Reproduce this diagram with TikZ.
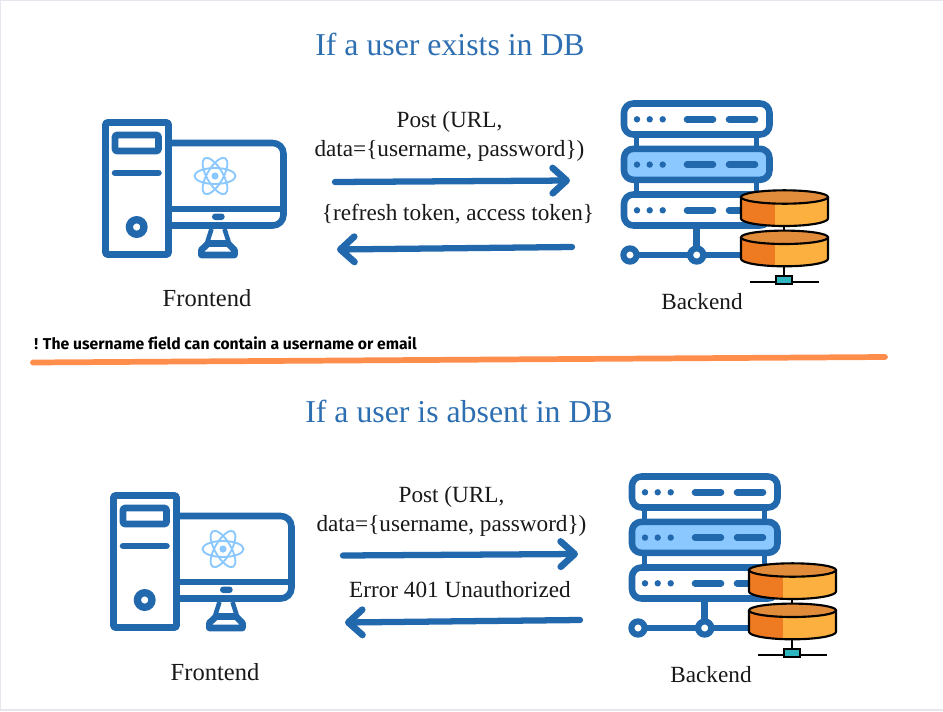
\documentclass[tikz,border=0pt]{standalone}
\usepackage{fontspec}
\setmainfont{Liberation Serif}
\newfontfamily\notefont[Ligatures=NoCommon]{Fira Sans}
\usetikzlibrary{arrows.meta}
\definecolor{iconblue}{HTML}{2268AD}
\definecolor{titleblue}{HTML}{2E6FB2}
\definecolor{paleblue}{HTML}{8AC8FF}
\definecolor{rule}{HTML}{FF8E4D}
\definecolor{edge}{HTML}{E6E6EE}
\definecolor{dbdark}{HTML}{EE7B22}
\definecolor{dblight}{HTML}{FBB040}
\definecolor{dbtop}{HTML}{E08C3A}
\definecolor{dbteal}{HTML}{2EB5C0}
\tikzset{
  icon/.style={draw=iconblue,line width=4.9pt,line join=round,line cap=round},
  title/.style={text=titleblue,font=\fontsize{23.85}{28}\selectfont},
  label/.style={text=black!90,font=\fontsize{17.4}{21.75}\selectfont,align=center},
  place/.style={text=black!90,font=\fontsize{18.4}{22}\selectfont},
  flow/.style={draw=iconblue,line width=4.7pt,line cap=round,-{Straight Barb[round,length=10.5pt,width=19pt,line width=5pt]}},
  frontend/.pic={
    % tower
    \draw[icon,rounded corners=1pt,fill=white] (105.5,122.5) rectangle (168.5,254.5);
    \draw[icon,rounded corners=1pt] (115,135) rectangle (158.5,151);
    \draw[icon] (115,173) -- (158.5,173);
    \draw[iconblue,line width=5.5pt] (136.7,227) circle[radius=7.3];
    % screen
    \draw[icon,rounded corners=8pt] (168.5,143) -- (283.5,143) -- (283.5,225.5) -- (168.5,225.5);
    \draw[icon] (168.5,209) -- (283.5,209);
    \fill[iconblue,rounded corners=2.4pt] (212,213.5) rectangle (224.7,220);
    % stand
    \draw[iconblue,line width=3.4pt] (211.5,229) -- (207,243) (224.5,229) -- (229,243);
    \draw[icon] (208,243.5) -- (228,243.5) -- (234.5,250) -- (234.5,255) -- (201.3,255) -- (201.3,250) -- cycle;
    % logo
    \foreach \a in {0,60,120}
      \draw[paleblue,line width=1.4pt,rotate around={\a:(215,176)}] (215,176) ellipse[x radius=20.5,y radius=8];
    \fill[paleblue] (215,176) circle[radius=3.6];
  },
  backend/.pic={
    % racks
    \foreach \x in {636.7,756.7}
      \draw[iconblue,line width=3.8pt] (\x,136) -- (\x,193);
    \foreach \y/\c in {103.5/white,148.8/paleblue,194.5/white} {
      \filldraw[icon,fill=\c,rounded corners=7pt] (624,\y) rectangle (769.5,\y+31);
      \foreach \x in {637,649.7,662.7}
        \fill[iconblue] (\x,\y+15.8) circle[radius=3.2];
      \draw[icon] (687,\y+15.8) -- (713,\y+15.8);
      \draw[icon] (729,\y+15.8) -- (755,\y+15.8);
    }
    % network
    \draw[icon] (696.7,229) -- (696.7,255);
    \draw[icon] (630,255) -- (745,255);
    \foreach \x in {630,696.7}
      \filldraw[iconblue,line width=4.6pt,fill=white] (\x,255) circle[radius=6.6];
    % disks
    \draw[black,line width=1.3pt] (784.3,226) -- (784.3,237) (784.3,266) -- (784.3,276);
    \draw[black,line width=1.3pt] (750,281.7) -- (818.7,281.7);
    \filldraw[fill=dbteal,draw=black,line width=1.3pt] (776,275.7) rectangle (791.7,284.3);
    \foreach \y in {197,237.3} {
      \begin{scope}[shift={(0,\y)}]
        \begin{scope}
          \clip (741,0) -- (741,21.5) arc[start angle=180,end angle=0,x radius=43.5,y radius=7.5] -- (828,0) -- cycle;
          \fill[dbdark] (741,-8) rectangle (775,30);
          \fill[dblight] (775,-8) rectangle (828,30);
        \end{scope}
        \filldraw[fill=dbtop,draw=black,line width=1.6pt] (784.5,0) ellipse[x radius=43.5,y radius=6.7];
        \draw[black,line width=1.6pt] (741,0) -- (741,21.5) arc[start angle=180,end angle=0,x radius=43.5,y radius=7.5] -- (828,0);
      \end{scope}
    }
  }
}
\begin{document}
\begin{tikzpicture}[x=.75pt,y=-.75pt]
  \useasboundingbox (0,0) rectangle (943,711);
  \fill[white] (0,0) rectangle (943,711);
  \draw[edge,line width=.9pt] (943,.5) -- (.5,.5) -- (.5,711);
  \draw[edge,line width=1.5pt] (0,710) -- (943,710);
  % upper panel
  \node[title] (titleexists) at (450,44.5) {If a user exists in DB};
  \pic at (0,0) {frontend};
  \pic at (0,0) {backend};
  \node[label] (postexists) at (449.5,136) {Post (URL,\\data=\{username, password\})};
  \node[label] (tokens) at (458,214) {\{refresh token, access token\}};
  \node[place] (frontexists) at (207,298) {Frontend};
  \node[label] (backexists) at (702,302) {Backend};
  \coordinate (reqa) at (335,182);
  \coordinate (reqb) at (570,180.5);
  \coordinate (resa) at (572,247);
  \coordinate (resb) at (337,249.5);
  \draw[flow] (reqa) -- (reqb);
  \draw[flow] (resa) -- (resb);
  % note
  \node[anchor=west,inner sep=0pt,font=\notefont\bfseries\fontsize{11.8}{13}\selectfont,text=black] (note) at (34,343.5) {! The username field can contain a username or email};
  \coordinate (rulea) at (33,362.5);
  \coordinate (ruleb) at (885,357);
  \draw[rule,line width=4.3pt,line cap=round] (rulea) -- (ruleb);
  % lower panel
  \node[title] (titleabsent) at (459,411.5) {If a user is absent in DB};
  \pic at (8,373) {frontend};
  \pic at (8,373) {backend};
  \node[label] (postabsent) at (451.5,511) {Post (URL,\\data=\{username, password\})};
  \node[label] (error) at (460,590) {Error 401 Unauthorized};
  \node[place] (frontabsent) at (215,672) {Frontend};
  \node[label] (backabsent) at (711,675) {Backend};
  \coordinate (reqc) at (343,555.5);
  \coordinate (reqd) at (578,554);
  \coordinate (resc) at (580,620);
  \coordinate (resd) at (345,622.5);
  \draw[flow] (reqc) -- (reqd);
  \draw[flow] (resc) -- (resd);
\end{tikzpicture}
\end{document}
